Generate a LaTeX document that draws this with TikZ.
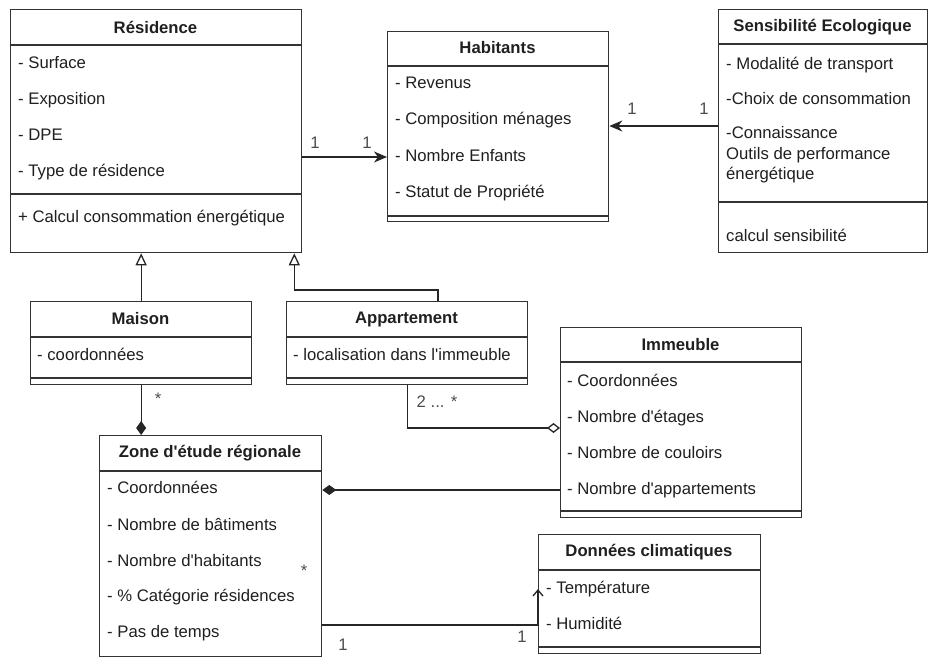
\documentclass[tikz,border=0pt]{standalone}
\usepackage{fontspec}
\setmainfont{Liberation Sans}
\usetikzlibrary{arrows.meta}

\begin{document}
\begin{tikzpicture}[
  x=1pt, y=-1pt,
  every node/.style={font=\fontsize{16.7}{20.5}\selectfont, text=black!88},
  classbox/.style={draw=black!80, line width=1.3pt, anchor=north west, inner sep=0pt},
  classname/.style={font=\fontsize{16.7}{20.5}\selectfont\bfseries, inner sep=0pt},
  member/.style={anchor=west, inner sep=0pt, text height=12pt, text depth=3.5pt},
  rule/.style={draw=black!80, line width=1.3pt},
  mult/.style={inner sep=0pt, text=black!70},
  link/.style={draw=black!85, line width=1.3pt},
  assoc/.style={link, -{Stealth[length=13pt, width=11pt, inset=4pt]}},
  inherit/.style={link, -{Triangle[open, length=12pt, width=11pt, fill=white]}},
  compose/.style={link, -{Diamond[length=14pt, width=10pt]}},
  aggregate/.style={link, -{Diamond[open, length=13pt, width=10pt, fill=white]}},
  navig/.style={link, -{Straight Barb[length=6pt, width=10pt]}}
]
\useasboundingbox (0,0) rectangle (929,657);

\node[classbox, minimum width=291pt, minimum height=243pt] (residence) at (10,9) {};
\node[classname] (residence-name) at (155.5,27) {Résidence};
\draw[rule] (10,45) -- (301,45);
\node[member] (res-surface) at (18,64) {- Surface};
\node[member] (res-expo) at (18,100) {- Exposition};
\node[member] (res-dpe) at (18,136) {- DPE};
\node[member] (res-type) at (18,172) {- Type de résidence};
\draw[rule] (10,194) -- (301,194);
\node[member] (res-calcul) at (18,218) {+ Calcul consommation énergétique};

\node[classbox, minimum width=221pt, minimum height=190pt] (habitants) at (387,31) {};
\node[classname] (habitants-name) at (497.5,48) {Habitants};
\draw[rule] (387,66) -- (608,66);
\node[member] (hab-revenus) at (395,84) {- Revenus};
\node[member] (hab-compo) at (395,120) {- Composition ménages};
\node[member] (hab-enfants) at (395,157) {- Nombre Enfants};
\node[member] (hab-statut) at (395,193) {- Statut de Propriété};
\draw[rule] (387,216) -- (608,216);

\node[classbox, minimum width=209pt, minimum height=243pt] (sensib) at (718,9) {};
\node[classname] (sensib-name) at (822.5,27) {Sensibilité Ecologique};
\draw[rule] (718,44) -- (927,44);
\node[member] (sens-transport) at (726,65) {- Modalité de transport};
\node[member] (sens-choix) at (726,100) {-Choix de consommation};
\node[member] (sens-connaiss) at (726,134) {-Connaissance};
\node[member] (sens-outils) at (726,155) {Outils de performance};
\node[member] (sens-energie) at (726,175) {énergétique};
\draw[rule] (718,202) -- (927,202);
\node[member] (sens-calcul) at (726,237) {calcul sensibilité};

\node[classbox, minimum width=221pt, minimum height=83pt] (maison) at (30,301) {};
\node[classname] (maison-name) at (140.5,319) {Maison};
\draw[rule] (30,337) -- (251,337);
\node[member] (mai-coord) at (37,356) {- coordonnées};
\draw[rule] (30,378) -- (251,378);

\node[classbox, minimum width=241pt, minimum height=83pt] (appart) at (286,301) {};
\node[classname] (appart-name) at (406.5,319) {Appartement};
\draw[rule] (286,337) -- (527,337);
\node[member] (app-local) at (293,356) {- localisation dans l\textquotesingle immeuble};
\draw[rule] (286,378) -- (527,378);

\node[classbox, minimum width=241pt, minimum height=190pt] (immeuble) at (560,327) {};
\node[classname] (immeuble-name) at (680.5,345) {Immeuble};
\draw[rule] (560,362) -- (801,362);
\node[member] (imm-coord) at (567,382) {- Coordonnées};
\node[member] (imm-etages) at (567,418) {- Nombre d\textquotesingle étages};
\node[member] (imm-couloirs) at (567,454) {- Nombre de couloirs};
\node[member] (imm-appart) at (567,490) {- Nombre d\textquotesingle appartements};
\draw[rule] (560,511) -- (801,511);

\node[classbox, minimum width=222pt, minimum height=221pt] (zone) at (99,435) {};
\node[classname] (zone-name) at (210,453) {Zone d\textquotesingle étude régionale};
\draw[rule] (99,471) -- (321,471);
\node[member] (zone-coord) at (107,489) {- Coordonnées};
\node[member] (zone-bat) at (107,526) {- Nombre de bâtiments};
\node[member] (zone-hab) at (107,562) {- Nombre d\textquotesingle habitants};
\node[member] (zone-cat) at (107,597) {- \% Catégorie résidences};
\node[member] (zone-pas) at (107,633) {- Pas de temps};

\node[classbox, minimum width=222pt, minimum height=119pt] (donnees) at (538,534) {};
\node[classname] (donnees-name) at (649,552) {Données climatiques};
\draw[rule] (538,570) -- (760,570);
\node[member] (don-temp) at (546,589) {- Température};
\node[member] (don-hum) at (546,625) {- Humidité};
\draw[rule] (538,647) -- (760,647);

\coordinate (sens-link) at (718,126);
\coordinate (appart-up) at (438,301);
\coordinate (imm-agg) at (560,428);

\draw[assoc] (residence.east |- hab-enfants) -- (habitants.west |- hab-enfants);
\draw[assoc] (sens-link) -- (habitants.east |- sens-link);
\draw[inherit] (maison.north) -- (maison.north |- residence.south);
\draw[inherit] (appart-up) -- ++(0,-11) -| ([xshift=-8pt]residence.south east);
\draw[compose] (maison.south) -- (maison.south |- zone.north);
\draw[aggregate] (appart.south) |- (imm-agg);
\draw[compose] (immeuble.west |- imm-appart) -- (zone.east |- imm-appart);
\draw[navig] (zone.east |- don-hum) -| (donnees.west |- don-temp);

\node[mult] (m-res) at (315,143) {1};
\node[mult] (m-hab) at (367,143) {1};
\node[mult] (m-hab2) at (632,109) {1};
\node[mult] (m-sens) at (704,109) {1};
\node[mult] (m-maison) at (158,399) {*};
\node[mult] (m-appart) at (437,402) {2 ... *};
\node[mult] (m-zone) at (304,571) {*};
\node[mult] (m-zone2) at (343,645) {1};
\node[mult] (m-don) at (522,637) {1};
\end{tikzpicture}
\end{document}
